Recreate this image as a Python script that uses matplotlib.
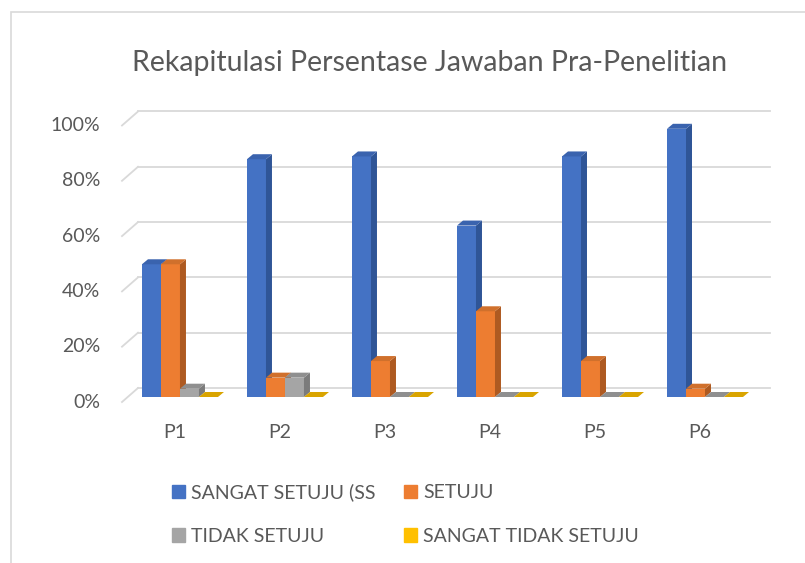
import matplotlib.pyplot as plt
from matplotlib.patches import Polygon, Patch, Rectangle
import numpy as np

plt.rcParams['font.family'] = ['Lato', 'DejaVu Sans']

# data
categories = ["P1", "P2", "P3", "P4", "P5", "P6"]
series_names = ["SANGAT SETUJU (SS", "SETUJU", "TIDAK SETUJU", "SANGAT TIDAK SETUJU"]
sangat_setuju = [0.48, 0.86, 0.87, 0.62, 0.87, 0.97]
setuju = [0.48, 0.07, 0.13, 0.31, 0.13, 0.03]
tidak_setuju = [0.03, 0.07, 0.0, 0.0, 0.0, 0.0]
sangat_tidak_setuju = [0.0, 0.0, 0.0, 0.0, 0.0, 0.0]
yticks = [0, 0.2, 0.4, 0.6, 0.8, 1.0]
ylabels = ["0%", "20%", "40%", "60%", "80%", "100%"]

series = [sangat_setuju, setuju, tidak_setuju, sangat_tidak_setuju]
colors = ["#4472C4", "#ED7D31", "#A5A5A5", "#FFC000"]
sides = ["#2F5597", "#AE5A21", "#7B7B7B", "#BF9000"]
tops = ["#3A63AE", "#D0702C", "#8F8F8F", "#D9A400"]
txt = "#595959"

W, H = 805, 563
fig = plt.figure(figsize=(W / 100, H / 100), dpi=100)
left, right, base, top = 122, 770, 397, 120.5
ax = fig.add_axes([left / W, 1 - base / H, (right - left) / W, (base - top) / H])
xmin, xmax = -0.552, 5.619
ax.set_xlim(xmin, xmax)
ax.set_ylim(0, 1)
ax.axis('off')

px_x = (right - left) / (xmax - xmin)
px_y = base - top

# chart border
fig.patches.append(Rectangle((11 / W, -0.1), 1.2, 1 - 12 / H + 0.1, transform=fig.transFigure,
                             fill=False, ec="#d9d9d9", lw=1.2))

# gridlines with the slanted left piece
back_dx = 16 / px_x
for v, lab in zip(yticks, ylabels):
    yb = v + 9 / px_y
    yf = v - 5 / px_y
    ax.plot([xmin, xmin + back_dx], [yf, yb], color="#d9d9d9", lw=1.3, clip_on=False, zorder=0)
    ax.plot([xmin + back_dx, xmax], [yb, yb], color="#d9d9d9", lw=1.3, clip_on=False, zorder=0)
    ax.text(xmin - 22 / px_x, yf, lab, ha="right", va="center", fontsize=14, color=txt)

bw = 19 / px_x
dx = 6 / px_x
dy = 5 / px_y
x = np.arange(len(categories))
for i in x:
    for k, vals in enumerate(series):
        x0 = i + (k - 2) * bw
        h = vals[i]
        ax.add_patch(Rectangle((x0, 0), bw, h, fc=colors[k], ec="none", zorder=2))
        ax.add_patch(Polygon([(x0 + bw, 0), (x0 + bw + dx, dy), (x0 + bw + dx, h + dy), (x0 + bw, h)],
                             fc=sides[k], ec="none", zorder=2))
        ax.add_patch(Polygon([(x0, h), (x0 + dx, h + dy), (x0 + bw + dx, h + dy), (x0 + bw, h)],
                             fc=tops[k], ec="none", zorder=2))

for i, c in zip(x, categories):
    ax.text(i - 5 / px_x, -35 / px_y, c, ha="center", va="center", fontsize=14, color=txt)

fig.text(430 / W, 1 - 63 / H, "Rekapitulasi Persentase Jawaban Pra-Penelitian",
         ha="center", va="center", fontsize=20.5, color=txt)

handles = [Patch(color=c) for c in colors]
order = [0, 2, 1, 3]
fig.legend([handles[j] for j in order], [series_names[j] for j in order], ncol=2,
           loc="upper left", bbox_to_anchor=(154 / W, 1 - 466 / H), frameon=False,
           fontsize=14, labelcolor=txt, handlelength=0.7, handleheight=0.7,
           handletextpad=0.3, columnspacing=1.45, labelspacing=1.35)

fig.savefig("out.png", dpi=100)
